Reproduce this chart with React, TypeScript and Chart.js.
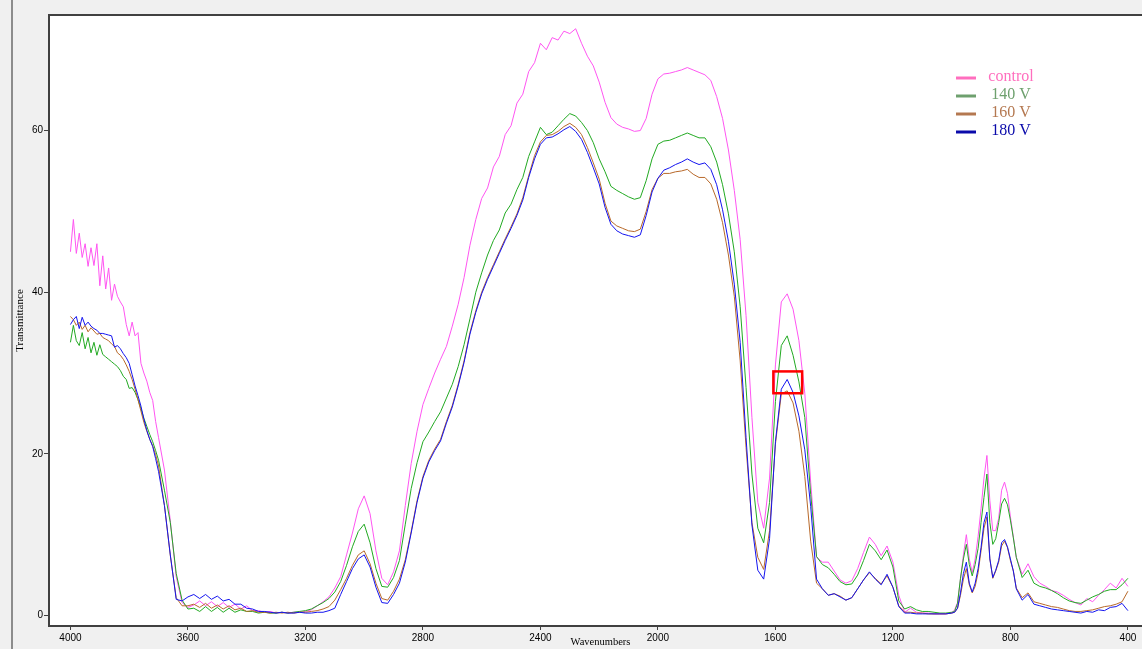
import React, { useEffect, useRef } from "react";
import { Chart, registerables } from "chart.js";

Chart.register(...registerables);

// Wavenumber grid (cm-1)
const WAVENUMBERS = [
  4000, 3990, 3980, 3970, 3960, 3950, 3940, 3930, 3920, 3910, 3900, 3890, 3880, 3870, 3860, 3850,
  3840, 3830, 3820, 3810, 3800, 3790, 3780, 3770, 3760, 3750, 3740, 3730, 3720, 3710, 3700,
  3680, 3660, 3640, 3620, 3600, 3580, 3560, 3540, 3520, 3500,
  3480, 3460, 3440, 3420, 3400, 3380, 3360, 3340, 3320, 3300,
  3280, 3260, 3240, 3220, 3200, 3180, 3160, 3140, 3120, 3100,
  3080, 3060, 3040, 3020, 3000, 2980, 2960, 2940, 2920, 2900,
  2880, 2860, 2840, 2820, 2800, 2780, 2760, 2740, 2720, 2700,
  2680, 2660, 2640, 2620, 2600, 2580, 2560, 2540, 2520, 2500,
  2480, 2460, 2440, 2420, 2400, 2380, 2360, 2340, 2320, 2300,
  2280, 2260, 2240, 2220, 2200, 2180, 2160, 2140, 2120, 2100,
  2080, 2060, 2040, 2020, 2000, 1980, 1960, 1940, 1920, 1900,
  1880, 1860, 1840, 1820, 1800, 1780, 1760, 1740, 1720, 1700,
  1680, 1660, 1640, 1620, 1600, 1580, 1560, 1540, 1520, 1500,
  1480, 1460, 1440, 1420, 1400, 1380, 1360, 1340, 1320, 1300,
  1280, 1260, 1240, 1220, 1200, 1180, 1160, 1140, 1120, 1100,
  1080, 1060, 1040, 1020, 1000,
  990, 980, 970, 960, 950, 940, 930, 920, 910, 900, 890, 880, 870, 860, 850, 840, 830, 820, 810, 800, 790, 780,
  760, 740, 720, 700, 680, 660, 640, 620, 600, 580, 560, 540, 520, 500, 480, 460, 440, 420, 400,
];

const CONTROL = [
  45.0, 49.0, 44.8, 47.3, 44.3, 46.0, 43.2, 45.5, 43.3, 46.0, 40.8, 44.5, 40.4, 43.0, 39.0, 41.0,
  39.5, 38.8, 38.2, 36.0, 34.6, 36.3, 34.6, 35.0, 31.2, 30.0, 29.0, 27.6, 26.6, 24.0, 22.0,
  18.0, 11.7, 4.8, 1.6, 1.0, 1.3, 1.8, 1.2, 1.7, 1.1,
  1.6, 1.0, 1.4, 0.8, 1.2, 0.6, 0.6, 0.4, 0.5, 0.3,
  0.4, 0.3, 0.4, 0.4, 0.5, 0.7, 1.2, 1.7, 2.3, 3.4,
  4.8, 7.5, 10.2, 13.2, 14.8, 12.6, 8.0, 4.6, 3.8, 5.4,
  8.0, 13.6, 18.8, 22.8, 26.1, 28.1, 30.0, 31.7, 33.3, 35.8,
  38.5, 41.8, 45.8, 49.0, 51.6, 52.9, 55.5, 56.8, 59.5, 60.6,
  63.4, 64.5, 67.3, 68.4, 70.8, 70.0, 71.5, 71.2, 72.3, 72.0,
  72.6, 70.8, 69.2, 68.0, 66.0, 63.5, 61.6, 60.8, 60.4, 60.2,
  59.9, 60.0, 61.5, 64.5, 66.4, 67.0, 67.1, 67.3, 67.5, 67.8,
  67.5, 67.2, 66.9, 66.2, 64.2, 61.5, 57.6, 52.6, 46.5, 37.1,
  24.5, 14.0, 10.8, 17.0, 31.0, 38.8, 39.8, 37.9, 34.0, 27.5,
  16.5, 7.2, 6.6, 6.6, 5.5, 4.4, 4.0, 4.3, 5.8, 7.8,
  9.7, 8.8, 7.4, 8.6, 6.6, 2.5, 0.4, 0.9, 0.4, 0.3,
  0.3, 0.2, 0.2, 0.2, 0.3,
  0.7, 1.6, 4.5, 7.5, 10.0, 7.0, 5.3, 7.0, 9.8, 13.2, 17.0, 19.8, 14.2, 10.5, 10.5, 12.0, 15.5, 16.5, 15.1, 12.2, 9.7, 7.2,
  5.1, 6.4, 4.8, 4.0, 3.6, 3.1, 2.9, 2.5, 2.0, 1.6, 1.3, 2.1, 1.7, 2.5, 3.2, 4.0, 3.4, 4.6, 3.6,
];

const V140 = [
  33.8, 35.9, 34.0, 33.4, 35.0, 33.0, 34.4, 32.5, 33.8, 32.2, 33.5, 32.3, 32.0, 31.7, 31.4, 31.1,
  30.8, 30.3, 29.6, 29.2, 28.1, 28.2, 27.6, 26.7, 25.6, 24.4, 23.4, 22.4, 21.5, 20.4, 19.2,
  15.5, 11.5, 5.2, 1.9, 0.8, 0.9, 0.5, 1.1, 0.5, 1.0,
  0.4, 0.9, 0.4, 0.7, 0.5, 0.5, 0.3, 0.4, 0.3, 0.3,
  0.4, 0.3, 0.4, 0.5, 0.6, 0.8, 1.2, 1.6, 2.1, 2.9,
  4.2, 6.2, 8.5, 10.4, 11.3, 9.0, 5.8, 3.6, 3.5, 4.7,
  6.8, 11.3, 15.7, 18.9, 21.5, 22.7, 24.0, 25.2, 26.9, 28.6,
  30.8, 33.5, 36.7, 40.0, 42.4, 44.6, 46.4, 47.7, 49.8, 50.9,
  52.7, 54.2, 56.8, 58.6, 60.4, 59.5, 59.8, 60.6, 61.4, 62.1,
  61.8, 61.0, 60.0, 58.5, 56.5, 54.9, 53.1, 52.6, 52.2, 51.8,
  51.5, 51.7, 53.8, 56.5, 58.3, 58.7, 58.8, 59.1, 59.4, 59.7,
  59.4, 59.1, 59.1, 58.0, 56.1, 53.3, 49.7, 45.0, 38.2, 28.2,
  17.5, 10.8, 9.0, 14.0, 26.5, 33.4, 34.6, 32.2, 28.9, 24.5,
  15.0, 7.3, 6.3, 5.9, 5.1, 4.2, 3.8, 3.9, 5.0, 6.8,
  8.8, 8.0, 6.9, 8.1, 6.0, 1.8, 0.8, 1.1, 0.7, 0.5,
  0.5, 0.4, 0.3, 0.3, 0.4,
  0.5, 1.5, 4.6, 7.0, 8.8, 6.3, 4.9, 6.3, 8.3, 11.5, 14.6, 17.5, 11.5, 8.8, 9.5, 11.5, 13.8, 14.5, 13.7, 11.8, 9.6, 7.2,
  4.7, 5.6, 4.0, 3.6, 3.4, 3.1, 2.7, 2.2, 1.8, 1.6, 1.5, 1.9, 2.3, 2.6, 3.0, 3.2, 3.2, 3.8, 4.6,
];

const V160 = [
  37.0, 36.6, 35.9, 36.3, 35.4, 35.9, 35.1, 35.6, 35.2, 34.8, 34.9, 34.4, 34.2, 34.0, 33.6, 33.3,
  32.5, 32.2, 31.7, 31.0, 30.2, 29.2, 28.0, 26.7, 25.3, 23.9, 22.8, 21.8, 21.0, 19.9, 18.5,
  13.6, 7.4, 2.2, 1.2, 1.2, 1.4, 1.0, 1.5, 0.9, 1.3,
  0.8, 1.2, 0.7, 0.9, 0.5, 0.6, 0.4, 0.4, 0.3, 0.4,
  0.3, 0.4, 0.3, 0.4, 0.4, 0.5, 0.6, 0.8, 1.1, 1.9,
  3.2, 4.6, 6.2, 7.5, 8.0, 6.4, 4.0, 2.1, 1.9, 3.0,
  4.5, 6.9, 10.4, 14.2, 17.2, 19.2, 20.6, 21.8, 24.0, 26.0,
  28.6, 31.5, 35.0, 37.7, 40.0, 41.8, 43.4, 45.0, 46.6, 48.1,
  49.7, 51.7, 54.4, 56.9, 58.6, 59.4, 59.5, 59.9, 60.5, 60.9,
  60.4, 59.5, 57.9, 56.0, 54.0, 51.0, 48.8, 48.2, 47.9, 47.6,
  47.5, 47.8, 50.0, 52.7, 54.1, 54.7, 54.7, 54.9, 55.0, 55.2,
  54.6, 54.2, 54.2, 53.4, 51.5, 48.6, 44.6, 39.5, 31.5, 20.8,
  11.5, 7.2, 5.7, 10.5, 21.2, 27.4, 27.8, 26.3, 22.8, 17.2,
  9.2, 4.0, 3.3, 2.5, 2.7, 2.4, 1.9, 2.2, 3.3, 4.4,
  5.3, 4.6, 3.9, 4.9, 3.5, 1.2, 0.4, 0.4, 0.3, 0.3,
  0.2, 0.2, 0.2, 0.2, 0.3,
  0.4, 0.9, 2.5, 4.5, 5.8, 3.8, 2.8, 3.6, 5.3, 8.0, 10.8, 12.2, 7.0, 4.6, 5.5, 6.6, 8.6, 9.2, 8.4, 6.8, 5.5, 3.4,
  2.2, 2.8, 1.7, 1.5, 1.3, 1.1, 1.0, 0.8, 0.6, 0.5, 0.5, 0.6, 0.7, 0.9, 1.1, 1.2, 1.4, 1.7, 3.0,
];

const V180 = [
  36.0, 36.6, 37.0, 35.5, 36.9, 35.9, 36.3, 35.8, 35.5, 35.3, 34.9, 34.9, 34.8, 34.7, 34.6, 33.2,
  33.4, 33.0, 32.4, 31.9, 31.2, 29.8, 28.4, 27.2, 25.9, 24.3, 22.9, 21.8, 20.9, 19.4, 17.8,
  13.6, 7.5, 2.0, 1.8, 2.3, 2.6, 2.1, 2.6, 2.0, 2.4,
  1.8, 2.0, 1.4, 1.4, 0.9, 0.8, 0.5, 0.5, 0.4, 0.3,
  0.4, 0.3, 0.3, 0.4, 0.3, 0.3, 0.4, 0.4, 0.6, 0.9,
  2.6, 4.2, 5.8, 7.0, 7.5, 6.0, 3.5, 1.6, 1.5, 2.6,
  4.0, 6.6, 10.2, 14.0, 17.0, 19.0, 20.4, 21.6, 23.8, 25.8,
  28.4, 31.3, 34.8, 37.5, 39.8, 41.6, 43.2, 44.8, 46.4, 47.9,
  49.5, 51.4, 54.2, 56.5, 58.3, 59.1, 59.2, 59.6, 60.1, 60.5,
  59.9, 58.9, 57.3, 55.4, 53.4, 50.5, 48.4, 47.6, 47.2, 47.0,
  46.8, 47.1, 49.5, 52.4, 54.1, 55.1, 55.4, 55.8, 56.1, 56.5,
  56.1, 55.8, 56.0, 55.2, 53.3, 50.2, 46.3, 41.0, 33.8, 22.0,
  11.2, 5.6, 4.5, 9.5, 21.5, 28.0, 29.2, 27.6, 24.7, 20.5,
  13.5, 4.5, 3.3, 2.5, 2.7, 2.3, 1.9, 2.2, 3.3, 4.4,
  5.4, 4.5, 3.8, 5.1, 3.5, 1.1, 0.3, 0.3, 0.2, 0.2,
  0.2, 0.2, 0.2, 0.2, 0.3,
  0.4, 0.9, 2.8, 5.2, 6.6, 4.0, 2.9, 4.0, 5.8, 8.4, 11.5, 12.8, 7.0, 4.7, 5.6, 6.8, 9.0, 9.4, 8.5, 7.0, 5.5, 3.3,
  1.9, 2.6, 1.4, 1.2, 1.0, 0.8, 0.7, 0.6, 0.5, 0.4, 0.3, 0.5, 0.4, 0.7, 0.6, 1.0, 1.1, 1.5, 0.6,
];

const SERIES_LABELS = ["control", "140 V", "160 V", "180 V"];
const X_TICKS = [4000, 3600, 3200, 2800, 2400, 2000, 1600, 1200, 800, 400];
const Y_TICKS = [0, 20, 40, 60];
// highlighted region (wavenumber range, transmittance range)
const HIGHLIGHT_X = [1607, 1509];
const HIGHLIGHT_Y = [27.5, 30.2];

const LINE_COLORS = ["#ff55f2", "#22aa22", "#b8692a", "#1414f0"];
const LEGEND_COLORS = ["#ff6ebe", "#6ea06e", "#b47850", "#0a0aaa"];

const framePlugin = {
  id: "frame",
  beforeDraw(chart: any) {
    const { ctx, chartArea, width, height } = chart;
    ctx.save();
    ctx.fillStyle = "#f0f0f0";
    ctx.fillRect(0, 0, width, height);
    ctx.fillStyle = "#ffffff";
    ctx.fillRect(chartArea.left, chartArea.top, width - chartArea.left, chartArea.bottom - chartArea.top);
    ctx.strokeStyle = "#8c8c8c";
    ctx.lineWidth = 2;
    ctx.beginPath();
    ctx.moveTo(12, 0);
    ctx.lineTo(12, height);
    ctx.stroke();
    ctx.restore();
  },
  afterDraw(chart: any) {
    const { ctx, chartArea, width, scales } = chart;
    ctx.save();
    // top border
    ctx.strokeStyle = "#404040";
    ctx.lineWidth = 2;
    ctx.beginPath();
    ctx.moveTo(chartArea.left - 1, chartArea.top);
    ctx.lineTo(width, chartArea.top);
    ctx.stroke();
    // highlight box
    const x1 = scales.x.getPixelForValue(HIGHLIGHT_X[0]);
    const x2 = scales.x.getPixelForValue(HIGHLIGHT_X[1]);
    const y1 = scales.y.getPixelForValue(HIGHLIGHT_Y[1]);
    const y2 = scales.y.getPixelForValue(HIGHLIGHT_Y[0]);
    ctx.strokeStyle = "#ff0000";
    ctx.lineWidth = 2.5;
    ctx.strokeRect(Math.min(x1, x2), y1, Math.abs(x2 - x1), y2 - y1);
    // legend
    ctx.font = "16px 'Liberation Serif', 'DejaVu Serif', serif";
    ctx.textAlign = "center";
    ctx.textBaseline = "alphabetic";
    SERIES_LABELS.forEach((label, i) => {
      const y = 78 + i * 18;
      ctx.strokeStyle = LEGEND_COLORS[i];
      ctx.lineWidth = 3;
      ctx.beginPath();
      ctx.moveTo(956, y);
      ctx.lineTo(976, y);
      ctx.stroke();
      ctx.fillStyle = LEGEND_COLORS[i];
      ctx.fillText(label, 1011, y + 2.5);
    });
    ctx.restore();
  },
};

export default function App() {
  const canvasRef = useRef<HTMLCanvasElement | null>(null);

  useEffect(() => {
    const canvas = canvasRef.current;
    if (!canvas) return;
    const series = [CONTROL, V140, V160, V180];
    const datasets = series.map((vals, i) => ({
      label: SERIES_LABELS[i],
      data: vals.map((v, j) => ({ x: WAVENUMBERS[j], y: v })),
      borderColor: LINE_COLORS[i],
      backgroundColor: LINE_COLORS[i],
      borderWidth: 1,
      pointRadius: 0,
      tension: 0,
      fill: false,
    }));
    // draw control last? keep original order: later series on top
    const chart = new Chart(canvas, {
      type: "line",
      data: { datasets: datasets.slice().reverse() as any },
      options: {
        animation: false,
        responsive: false,
        devicePixelRatio: 1,
        layout: { padding: { top: 15, left: 0, right: 0, bottom: 0 } },
        plugins: {
          legend: { display: false },
          tooltip: { enabled: false },
        },
        scales: {
          x: {
            type: "linear",
            reverse: true,
            min: 318,
            max: 4073,
            afterBuildTicks: (scale: any) => {
              scale.ticks = X_TICKS.map((v) => ({ value: v }));
            },
            afterFit: (scale: any) => {
              scale.height = 23;
              scale.paddingLeft = 0;
              scale.paddingRight = 0;
            },
            grid: {
              drawOnChartArea: false,
              drawTicks: true,
              tickLength: 4,
              tickColor: "#404040",
            },
            border: { display: true, color: "#404040", width: 2 },
            ticks: {
              color: "#000000",
              padding: 2,
              maxRotation: 0,
              autoSkip: false,
              font: { family: "'Liberation Sans', Arial, sans-serif", size: 10 },
              callback: (v: any) => String(v),
            },
            title: {
              display: true,
              text: "Wavenumbers",
              color: "#000000",
              padding: { top: 0, bottom: 0 },
              font: { family: "'Liberation Serif', serif", size: 10.5 },
            },
          },
          y: {
            type: "linear",
            min: -1.3,
            max: 74.3,
            afterBuildTicks: (scale: any) => {
              scale.ticks = Y_TICKS.map((v) => ({ value: v }));
            },
            afterFit: (scale: any) => {
              scale.width = 49;
              scale.paddingTop = 0;
              scale.paddingBottom = 0;
            },
            grid: {
              drawOnChartArea: false,
              drawTicks: true,
              tickLength: 5,
              tickColor: "#404040",
            },
            border: { display: true, color: "#404040", width: 2 },
            ticks: {
              color: "#000000",
              padding: 1,
              font: { family: "'Liberation Sans', Arial, sans-serif", size: 10 },
              callback: (v: any) => String(v),
            },
            title: {
              display: true,
              text: "Transmittance",
              color: "#000000",
              padding: { top: 14, bottom: 0 },
              font: { family: "'Liberation Serif', serif", size: 11 },
            },
          },
        },
      },
      plugins: [framePlugin],
    });
    return () => chart.destroy();
  }, []);

  return (
    <div
      style={{
        position: "fixed",
        left: 0,
        top: 0,
        width: 1142,
        height: 649,
        overflow: "hidden",
        background: "#f0f0f0",
      }}
    >
      <canvas ref={canvasRef} width={1152} height={649} style={{ display: "block", width: 1152, height: 649 }} />
    </div>
  );
}
